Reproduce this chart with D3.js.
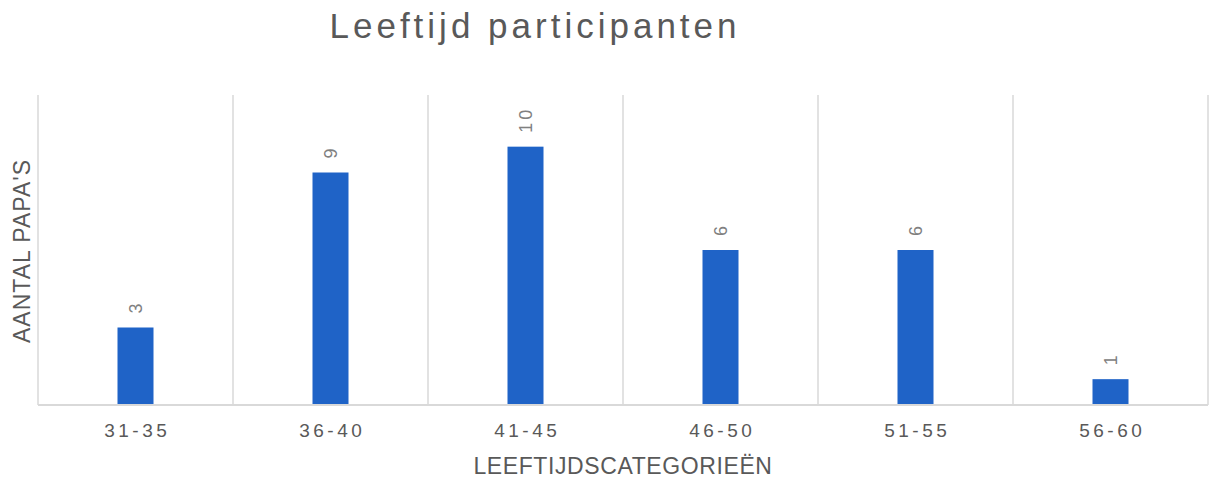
<!DOCTYPE html>
<html>
<head>
<meta charset="utf-8">
<script src="https://cdn.jsdelivr.net/npm/d3@7"></script>
<style>
  body { margin: 0; background: #fff; }
  svg text { font-family: "Liberation Sans", Arial, sans-serif; }
</style>
</head>
<body>
<div id="chart"></div>
<script>
var width = 1209, height = 479;
var margin = {top: 95, right: 1, bottom: 74, left: 38};

// data
let categories = ['31-35', '36-40', '41-45', '46-50', '51-55', '56-60'];
let values = [3, 9, 10, 6, 6, 1];
let yMax = 12;

let svg = d3.select('#chart')
  .append('svg')
  .attr('width', width)
  .attr('height', height)

let xScale = d3.scaleBand()
  .domain(categories)
  .range([margin.left, width - margin.right])

let yScale = d3.scaleLinear()
  .domain([0, yMax])
  .range([height - margin.bottom, margin.top])

let barw = 36;

// vertical gridlines between categories
let bounds = categories.map(c => xScale(c)).concat([xScale.range()[1]]);
svg.selectAll('line.grid')
  .data(bounds)
  .enter()
  .append('line')
  .attr('class', 'grid')
  .attr('x1', d => d)
  .attr('x2', d => d)
  .attr('y1', yScale(yMax))
  .attr('y2', yScale(0))
  .attr('stroke', '#d9d9d9')
  .attr('stroke-width', 1.5)

// bars
svg.selectAll('rect')
  .data(values)
  .enter()
  .append('rect')
  .attr('x', (d, i) => xScale(categories[i]) + xScale.bandwidth() / 2 - barw / 2)
  .attr('y', d => yScale(d))
  .attr('width', barw)
  .attr('height', d => yScale(0) - yScale(d))
  .attr('fill', '#1f63c7')

// baseline
svg.append('line')
  .attr('x1', margin.left)
  .attr('x2', width - margin.right)
  .attr('y1', yScale(0))
  .attr('y2', yScale(0))
  .attr('stroke', '#d9d9d9')
  .attr('stroke-width', 2)

// data labels, rotated
svg.selectAll('text.lbl')
  .data(values)
  .enter()
  .append('text')
  .attr('class', 'lbl')
  .attr('transform', (d, i) => {
    let cx = xScale(categories[i]) + xScale.bandwidth() / 2 + 6;
    return `translate(${cx},${yScale(d) - 14}) rotate(-90)`;
  })
  .attr('text-anchor', 'start')
  .style('font-size', '18px')
  .style('letter-spacing', '3px')
  .attr('fill', '#808080')
  .text(d => d)

// x axis
let xAxis = d3.axisBottom(xScale).tickSize(0).tickPadding(19);
let gx = svg.append('g')
  .attr('transform', `translate(0,${yScale(0)})`)
  .call(xAxis);
gx.select('.domain').remove();
gx.selectAll('text')
  .attr('dx', '1.75px')
  .style('font-size', '19px')
  .style('letter-spacing', '3.5px')
  .attr('fill', '#595959');

// title
svg.append('text')
  .attr('x', 535)
  .attr('y', 38)
  .attr('text-anchor', 'middle')
  .style('font-size', '35px')
  .style('letter-spacing', '4px')
  .attr('fill', '#595959')
  .text('Leeftijd participanten')

// axis titles
svg.append('text')
  .attr('x', 623)
  .attr('y', 474)
  .attr('text-anchor', 'middle')
  .style('font-size', '23px')
  .style('letter-spacing', '0.6px')
  .attr('fill', '#595959')
  .text('LEEFTIJDSCATEGORIEËN')

svg.append('text')
  .attr('transform', `translate(30,251) rotate(-90)`)
  .attr('text-anchor', 'middle')
  .style('font-size', '23px')
  .style('letter-spacing', '1px')
  .attr('fill', '#595959')
  .text("AANTAL PAPA'S")
</script>
</body>
</html>
